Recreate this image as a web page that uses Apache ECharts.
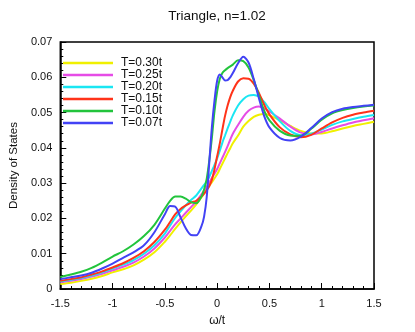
<!DOCTYPE html>
<html>
<head>
<meta charset="utf-8">
<script src="https://cdn.jsdelivr.net/npm/echarts@6/dist/echarts.min.js"></script>
<style>
  html, body { margin: 0; padding: 0; background: #fff; }
  #chart { width: 415px; height: 332px; }
</style>
</head>
<body>
<div id="chart"></div>
<script>
// omega/t sample points shared by every curve
var omega = [
  -1.5, -1.4, -1.3, -1.2, -1.1, -1.0, -0.9, -0.8, -0.7, -0.6, -0.5,
  -0.45, -0.4, -0.35, -0.3, -0.25, -0.2,
  -0.15, -0.125, -0.1, -0.075, -0.05, -0.025, 0, 0.025, 0.05, 0.075, 0.1, 0.125, 0.15,
  0.2, 0.25, 0.3, 0.35, 0.4, 0.45, 0.5,
  0.6, 0.7, 0.8, 0.9, 1.0, 1.1, 1.2, 1.3, 1.4, 1.5]

var dosT030 = [
  0.0014, 0.0018, 0.0023, 0.0029, 0.0037, 0.0047, 0.0056, 0.0067, 0.0083, 0.0104, 0.0134,
  0.0152, 0.0171, 0.0189, 0.0206, 0.0222, 0.0240,
  0.0260, 0.0271, 0.0282, 0.0292, 0.0303, 0.0314, 0.0325, 0.0340, 0.0355, 0.0370, 0.0385, 0.0399, 0.0413,
  0.0435, 0.0460, 0.0476, 0.0488, 0.0494, 0.0496, 0.0492,
  0.0478, 0.0462, 0.0448, 0.0441, 0.0441, 0.0447, 0.0455, 0.0462, 0.0468, 0.0474]
var dosT025 = [
  0.0019, 0.0023, 0.0028, 0.0035, 0.0043, 0.0053, 0.0063, 0.0075, 0.0092, 0.0115, 0.0146,
  0.0165, 0.0184, 0.0200, 0.0216, 0.0232, 0.0248,
  0.0268, 0.0279, 0.0290, 0.0302, 0.0315, 0.0327, 0.0340, 0.0356, 0.0372, 0.0388, 0.0405, 0.0423, 0.0440,
  0.0465, 0.0488, 0.0505, 0.0514, 0.0517, 0.0512, 0.0503,
  0.0483, 0.0460, 0.0443, 0.0438, 0.0445, 0.0455, 0.0464, 0.0472, 0.0478, 0.0484]
var dosT020 = [
  0.0021, 0.0026, 0.0031, 0.0038, 0.0047, 0.0058, 0.0069, 0.0082, 0.0100, 0.0124, 0.0157,
  0.0180, 0.0202, 0.0220, 0.0237, 0.0252, 0.0265,
  0.0285, 0.0295, 0.0305, 0.0318, 0.0335, 0.0352, 0.0370, 0.0392, 0.0415, 0.0435, 0.0455, 0.0474, 0.0492,
  0.0520, 0.0538, 0.0548, 0.0550, 0.0545, 0.0530, 0.0510,
  0.0475, 0.0448, 0.0436, 0.0440, 0.0452, 0.0465, 0.0475, 0.0482, 0.0488, 0.0493]
var dosT015 = [
  0.0023, 0.0028, 0.0033, 0.0041, 0.0050, 0.0061, 0.0073, 0.0088, 0.0107, 0.0133, 0.0168,
  0.0190, 0.0212, 0.0227, 0.0237, 0.0245, 0.0250,
  0.0262, 0.0270, 0.0280, 0.0292, 0.0310, 0.0340, 0.0376, 0.0412, 0.0452, 0.0490, 0.0520, 0.0544, 0.0562,
  0.0588, 0.0597, 0.0596, 0.0582, 0.0555, 0.0522, 0.0495,
  0.0458, 0.0438, 0.0430, 0.0437, 0.0455, 0.0472, 0.0485, 0.0494, 0.0500, 0.0505]
var dosT010 = [
  0.0034, 0.0041, 0.0049, 0.0060, 0.0075, 0.0092, 0.0107, 0.0126, 0.0150, 0.0182, 0.0228,
  0.0250, 0.0262, 0.0262, 0.0256, 0.0246, 0.0243,
  0.0262, 0.0282, 0.0312, 0.0365, 0.0430, 0.0505, 0.0560, 0.0595, 0.0612, 0.0620, 0.0626, 0.0631, 0.0636,
  0.0648, 0.0646, 0.0628, 0.0592, 0.0548, 0.0505, 0.0478,
  0.0448, 0.0435, 0.0434, 0.0454, 0.0480, 0.0498, 0.0507, 0.0513, 0.0517, 0.0520]
var dosT007 = [
  0.0028, 0.0033, 0.0038, 0.0046, 0.0058, 0.0072, 0.0088, 0.0104, 0.0124, 0.0161, 0.0212,
  0.0235, 0.0233, 0.0203, 0.0172, 0.0153, 0.0152,
  0.0178, 0.0205, 0.0260, 0.0360, 0.0460, 0.0535, 0.0590, 0.0608, 0.0600, 0.0591, 0.0592, 0.0600, 0.0612,
  0.0640, 0.0658, 0.0642, 0.0595, 0.0540, 0.0490, 0.0458,
  0.0428, 0.0421, 0.0432, 0.0456, 0.0483, 0.0501, 0.0511, 0.0516, 0.0519, 0.0522]

var seriesNames = ['T=0.30t', 'T=0.25t', 'T=0.20t', 'T=0.15t', 'T=0.10t', 'T=0.07t']
var seriesData = [dosT030, dosT025, dosT020, dosT015, dosT010, dosT007]
var colors = ['#f0f000', '#e64ce6', '#1ae6f2', '#ff3319', '#22c43c', '#4242f5']

var chart = echarts.init(document.getElementById('chart'))

var font = 'Liberation Sans, Arial, Helvetica, sans-serif'

chart.setOption({
  animation: false,
  color: colors,
  title: {
    text: 'Triangle, n=1.02',
    left: 212,
    top: 4,
    textAlign: 'center',
    textStyle: { fontSize: 13.5, fontWeight: 'normal', color: '#111', fontFamily: font }
  },
  legend: {
    data: seriesNames,
    orient: 'vertical',
    left: 63,
    top: 57,
    padding: 0,
    icon: 'rect',
    itemWidth: 50,
    itemHeight: 2.5,
    itemGap: 0,
    textStyle: { fontSize: 12, color: '#111', fontFamily: font, lineHeight: 11.6, padding: [0, 0, 0, 3] }
  },
  grid: {
    left: 50,
    right: 41,
    top: 42,
    bottom: 41,
    show: true,
    borderColor: '#000',
    borderWidth: 1.5,
    backgroundColor: 'transparent'
  },
  xAxis: {
    type: 'value',
    min: -1.5,
    max: 1.5,
    interval: 0.5,
    name: 'ω/t',
    nameLocation: 'middle',
    nameGap: 26,
    nameTextStyle: { fontSize: 12, color: '#111', fontFamily: font },
    axisLine: { onZero: false, lineStyle: { color: '#000', width: 1.5 } },
    axisTick: { inside: true, length: 6, lineStyle: { color: '#000', width: 1 } },
    minorTick: { show: true, splitNumber: 5, length: 3, lineStyle: { color: '#000', width: 1 } },
    splitLine: { show: false },
    axisLabel: { fontSize: 11, color: '#111', fontFamily: font, margin: 9 }
  },
  yAxis: {
    type: 'value',
    min: 0,
    max: 0.07,
    interval: 0.01,
    name: 'Density of States',
    nameLocation: 'middle',
    nameGap: 40,
    nameTextStyle: { fontSize: 11.5, color: '#111', fontFamily: font },
    axisLine: { show: true, onZero: false, lineStyle: { color: '#000', width: 1.5 } },
    axisTick: { show: true, inside: true, length: 6, lineStyle: { color: '#000', width: 1 } },
    minorTick: { show: true, splitNumber: 5, length: 3, lineStyle: { color: '#000', width: 1 } },
    splitLine: { show: false },
    axisLabel: { fontSize: 11, color: '#111', fontFamily: font, margin: 8 }
  },
  series: seriesNames.map(function (name, i) {
    return {
      name: name,
      type: 'line',
      smooth: 0.3,
      showSymbol: false,
      lineStyle: { width: 2, color: colors[i] },
      data: omega.map(function (x, j) { return [x, seriesData[i][j]] })
    }
  })
})
</script>
</body>
</html>
